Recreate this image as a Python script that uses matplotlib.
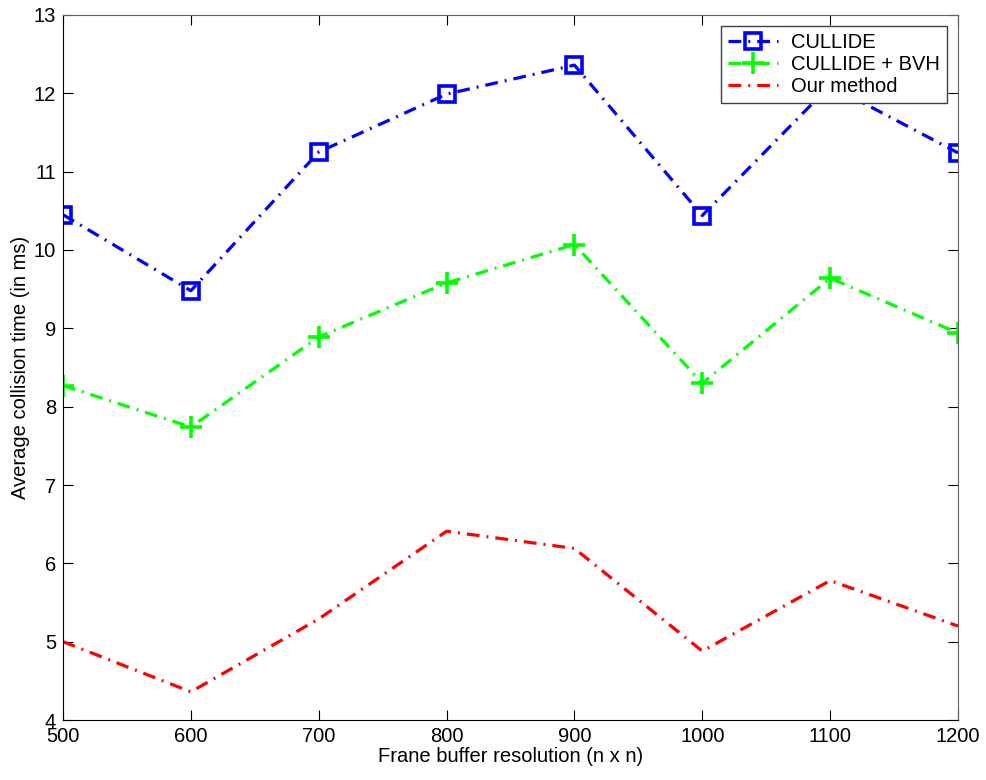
import matplotlib
matplotlib.use("Agg")
import matplotlib.pyplot as plt

plt.rcParams['font.family'] = ['Liberation Sans', 'DejaVu Sans']

# data
resolution = [500, 600, 700, 800, 900, 1000, 1100, 1200]
cullide = [10.45, 9.48, 11.25, 11.99, 12.36, 10.44, 12.1, 11.24]
cullide_bvh = [8.27, 7.74, 8.89, 9.58, 10.07, 8.30, 9.64, 8.94]
our_method = [5.0, 4.36, 5.29, 6.41, 6.19, 4.88, 5.78, 5.2]

x_ticks = [500, 600, 700, 800, 900, 1000, 1100, 1200]
y_ticks = [4, 5, 6, 7, 8, 9, 10, 11, 12, 13]

dashdot = (0, (4.0, 2.2, 0.6, 2.2))

fig = plt.figure(figsize=(9.86, 7.80), dpi=100)
ax = fig.add_axes([0.0639, 0.0769, 0.9077, 0.9039])

ax.plot(resolution, cullide, color='#0000ff', lw=2.3, linestyle=dashdot,
        marker='s', markersize=11, markerfacecolor='none',
        markeredgewidth=2.6, markeredgecolor='#0000ff', label='CULLIDE')
ax.plot(resolution, cullide_bvh, color='#00ff00', lw=2.3, linestyle=dashdot,
        marker='+', markersize=16, markeredgewidth=2.6,
        label='CULLIDE + BVH')
ax.plot(resolution, our_method, color='#ff0000', lw=2.3, linestyle=dashdot,
        label='Our method')

ax.set_xlim(500, 1200)
ax.set_ylim(4, 13)
ax.set_xticks(x_ticks)
ax.set_yticks(y_ticks)
ax.tick_params(direction='in', top=True, right=True, length=7,
               labelsize=14.5, pad=5)

for side in ['left', 'bottom']:
    ax.spines[side].set_color('black')
for side in ['top', 'right']:
    ax.spines[side].set_color('#606060')

ax.set_xlabel('Frane buffer resolution (n x n)', fontsize=14.5, labelpad=1)
ax.set_ylabel('Average collision time (in ms)', fontsize=14.5, labelpad=3)

leg = ax.legend(loc='upper right', bbox_to_anchor=(0.988, 0.985),
                borderaxespad=0, fontsize=14.5, fancybox=False,
                framealpha=1, edgecolor='#404040', handlelength=2.5,
                handletextpad=0.65, borderpad=0.35, labelspacing=0.15)
leg.get_frame().set_linewidth(1.0)

fig.savefig('out.png', dpi=100)
